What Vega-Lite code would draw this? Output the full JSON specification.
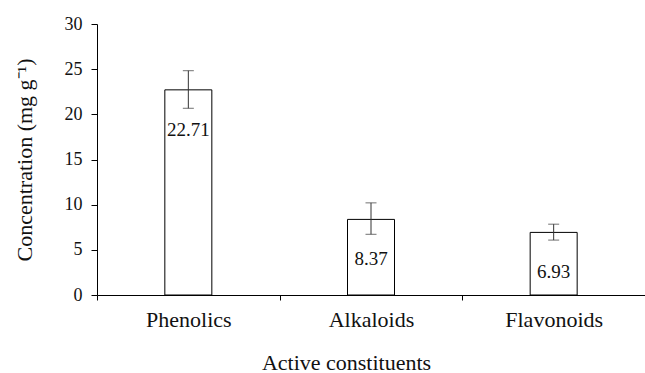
{
  "$schema": "https://vega.github.io/schema/vega-lite/v6.json",
  "width": 548,
  "height": 271,
  "autosize": {"type": "none"},
  "padding": {"left": 97, "top": 24, "right": 0, "bottom": 78},
  "background": "white",
  "config": {
    "view": {"stroke": null},
    "font": "Liberation Serif",
    "axis": {
      "domainColor": "#000",
      "tickColor": "#000",
      "labelColor": "#111",
      "titleColor": "#111",
      "labelFont": "Liberation Serif",
      "titleFont": "Liberation Serif",
      "titleFontWeight": "normal",
      "grid": false
    },
    "axisY": {
      "values": [0, 5, 10, 15, 20, 25, 30],
      "labelFontSize": 18,
      "titleFontSize": 22,
      "tickSize": 6,
      "labelPadding": 9,
      "titlePadding": 28
    }
  },
  "data": {
    "values": [
      {"constituent": "Phenolics", "concentration": 22.71, "lower": 20.67, "upper": 24.83},
      {"constituent": "Alkaloids", "concentration": 8.37, "lower": 6.72, "upper": 10.2},
      {"constituent": "Flavonoids", "concentration": 6.93, "lower": 6.08, "upper": 7.84}
    ]
  },
  "layer": [
    {
      "mark": {"type": "bar", "fill": "white", "stroke": "#000", "strokeWidth": 1, "width": 47},
      "encoding": {
        "x": {
          "field": "constituent", "type": "nominal", "sort": null,
          "scale": {"paddingInner": 0, "paddingOuter": 0},
          "axis": {
            "title": "Active constituents",
            "labelAngle": 0,
            "labelFontSize": 22,
            "titleFontSize": 22,
            "tickBand": "extent",
            "tickSize": 5,
            "labelPadding": 9,
            "titleX": 249,
            "titleY": 57,
            "titleAnchor": "middle"
          }
        },
        "y": {
          "field": "concentration", "type": "quantitative",
          "title": "Concentration (mg g⁻¹)",
          "scale": {"domain": [0, 30], "nice": false}
        }
      }
    },
    {
      "mark": {"type": "errorbar", "color": "#333", "ticks": {"size": 11, "color": "#333"}},
      "encoding": {
        "x": {"field": "constituent", "type": "nominal", "sort": null},
        "y": {"field": "lower", "type": "quantitative", "title": "Concentration (mg g⁻¹)"},
        "y2": {"field": "upper"}
      }
    },
    {
      "mark": {"type": "text", "fontSize": 19, "font": "Liberation Serif", "baseline": "middle", "dy": 40, "color": "#111"},
      "encoding": {
        "x": {"field": "constituent", "type": "nominal", "sort": null},
        "y": {"field": "concentration", "type": "quantitative", "title": "Concentration (mg g⁻¹)"},
        "text": {"field": "concentration", "type": "quantitative", "format": ".2f"}
      }
    }
  ]
}
